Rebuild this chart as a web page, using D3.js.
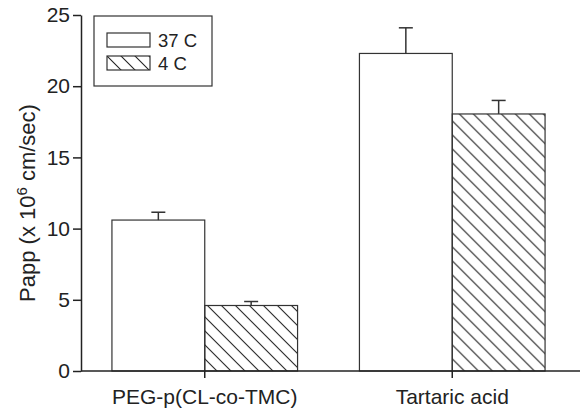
<!DOCTYPE html>
<html>
<head>
<meta charset="utf-8">
<script src="https://cdn.jsdelivr.net/npm/d3@7"></script>
<style>
  body { margin: 0; background: #fff; }
  svg { font-family: "Liberation Sans", Arial, sans-serif; }
</style>
</head>
<body>
<div id="chart"></div>
<script>
// Data
const groups = ["PEG-p(CL-co-TMC)", "Tartaric acid"];
const series = ["37 C", "4 C"];
const means = [[10.6, 4.6], [22.3, 18.05]];
const errors = [[0.55, 0.28], [1.8, 0.95]];
const yTicks = [0, 5, 10, 15, 20, 25];

const width = 580, height = 410;
const margin = { top: 15, right: 4, bottom: 39, left: 81 };

const svg = d3.select("#chart")
  .append("svg")
  .attr("width", width)
  .attr("height", height);

const x0 = d3.scaleBand()
  .domain(groups)
  .range([margin.left, width - margin.right])
  .paddingInner(0.25)
  .paddingOuter(0.125);

const x1 = d3.scaleBand()
  .domain(series)
  .range([0, x0.bandwidth()]);

const y = d3.scaleLinear()
  .domain([0, 25])
  .range([height - margin.bottom, margin.top]);

// Hatch pattern for the 4 C bars
const defs = svg.append("defs");
const pat = defs.append("pattern")
  .attr("id", "hatch")
  .attr("patternUnits", "userSpaceOnUse")
  .attr("width", 14)
  .attr("height", 14);
pat.append("path")
  .attr("d", "M0,0 L14,14 M-7,7 L7,21 M7,-7 L21,7")
  .attr("stroke", "#222")
  .attr("stroke-width", 1.1);

const fills = ["#fff", "url(#hatch)"];

// Bars
const g = svg.append("g")
  .selectAll("g")
  .data(groups)
  .join("g")
  .attr("transform", d => `translate(${x0(d)},0)`);

g.selectAll("rect")
  .data((d, i) => series.map((s, j) => ({ s, v: means[i][j], e: errors[i][j], j })))
  .join("rect")
  .attr("x", d => x1(d.s))
  .attr("y", d => y(d.v))
  .attr("width", x1.bandwidth())
  .attr("height", d => y(0) - y(d.v))
  .attr("fill", d => fills[d.j])
  .attr("stroke", "#333")
  .attr("stroke-width", 1.2);

// Error bars (upper only)
const eb = g.selectAll("g.err")
  .data((d, i) => series.map((s, j) => ({ s, v: means[i][j], e: errors[i][j] })))
  .join("g")
  .attr("class", "err")
  .attr("stroke", "#333")
  .attr("stroke-width", 1.5);

eb.append("line")
  .attr("x1", d => x1(d.s) + x1.bandwidth() / 2)
  .attr("x2", d => x1(d.s) + x1.bandwidth() / 2)
  .attr("y1", d => y(d.v))
  .attr("y2", d => y(d.v + d.e));

eb.append("line")
  .attr("x1", d => x1(d.s) + x1.bandwidth() / 2 - 7)
  .attr("x2", d => x1(d.s) + x1.bandwidth() / 2 + 7)
  .attr("y1", d => y(d.v + d.e))
  .attr("y2", d => y(d.v + d.e));

// Axes
const yAxis = svg.append("g")
  .attr("transform", `translate(${margin.left},0)`)
  .call(d3.axisLeft(y).tickValues(yTicks).tickSize(8).tickPadding(3).tickSizeOuter(0));

const xAxis = svg.append("g")
  .attr("transform", `translate(0,${y(0)})`)
  .call(d3.axisBottom(x0).tickSize(7).tickPadding(11).tickSizeOuter(0));

[yAxis, xAxis].forEach(ax => {
  ax.select(".domain").attr("stroke", "#222").attr("stroke-width", 1.5);
  ax.selectAll(".tick line").attr("stroke", "#222").attr("stroke-width", 1.5);
  ax.selectAll("text").attr("fill", "#222").style("font-size", "21px");
});
xAxis.select(".domain").attr("d", `M${margin.left},0H${width}`);

// Y axis label
const yl = svg.append("text")
  .attr("transform", `translate(35,${(y(0) + y(25)) / 2 + 10}) rotate(-90)`)
  .attr("text-anchor", "middle")
  .attr("fill", "#222")
  .style("font-size", "22px");
yl.append("tspan").text("Papp (x 10");
yl.append("tspan").attr("dy", -8).style("font-size", "15px").text("6");
yl.append("tspan").attr("dy", 8).text(" cm/sec)");

// Legend
const lg = svg.append("g");
lg.append("rect")
  .attr("x", 94).attr("y", 16)
  .attr("width", 118).attr("height", 70)
  .attr("fill", "#fff")
  .attr("stroke", "#333")
  .attr("stroke-width", 1.2);

const items = lg.selectAll("g.item")
  .data(series)
  .join("g")
  .attr("class", "item")
  .attr("transform", (d, i) => `translate(107,${33 + i * 23})`);

items.append("rect")
  .attr("width", 43).attr("height", 14)
  .attr("fill", (d, i) => fills[i])
  .attr("stroke", "#333")
  .attr("stroke-width", 1.2);

items.append("text")
  .attr("x", 51).attr("y", 13.5)
  .attr("fill", "#222")
  .style("font-size", "18.5px")
  .text(d => d);
</script>
</body>
</html>
